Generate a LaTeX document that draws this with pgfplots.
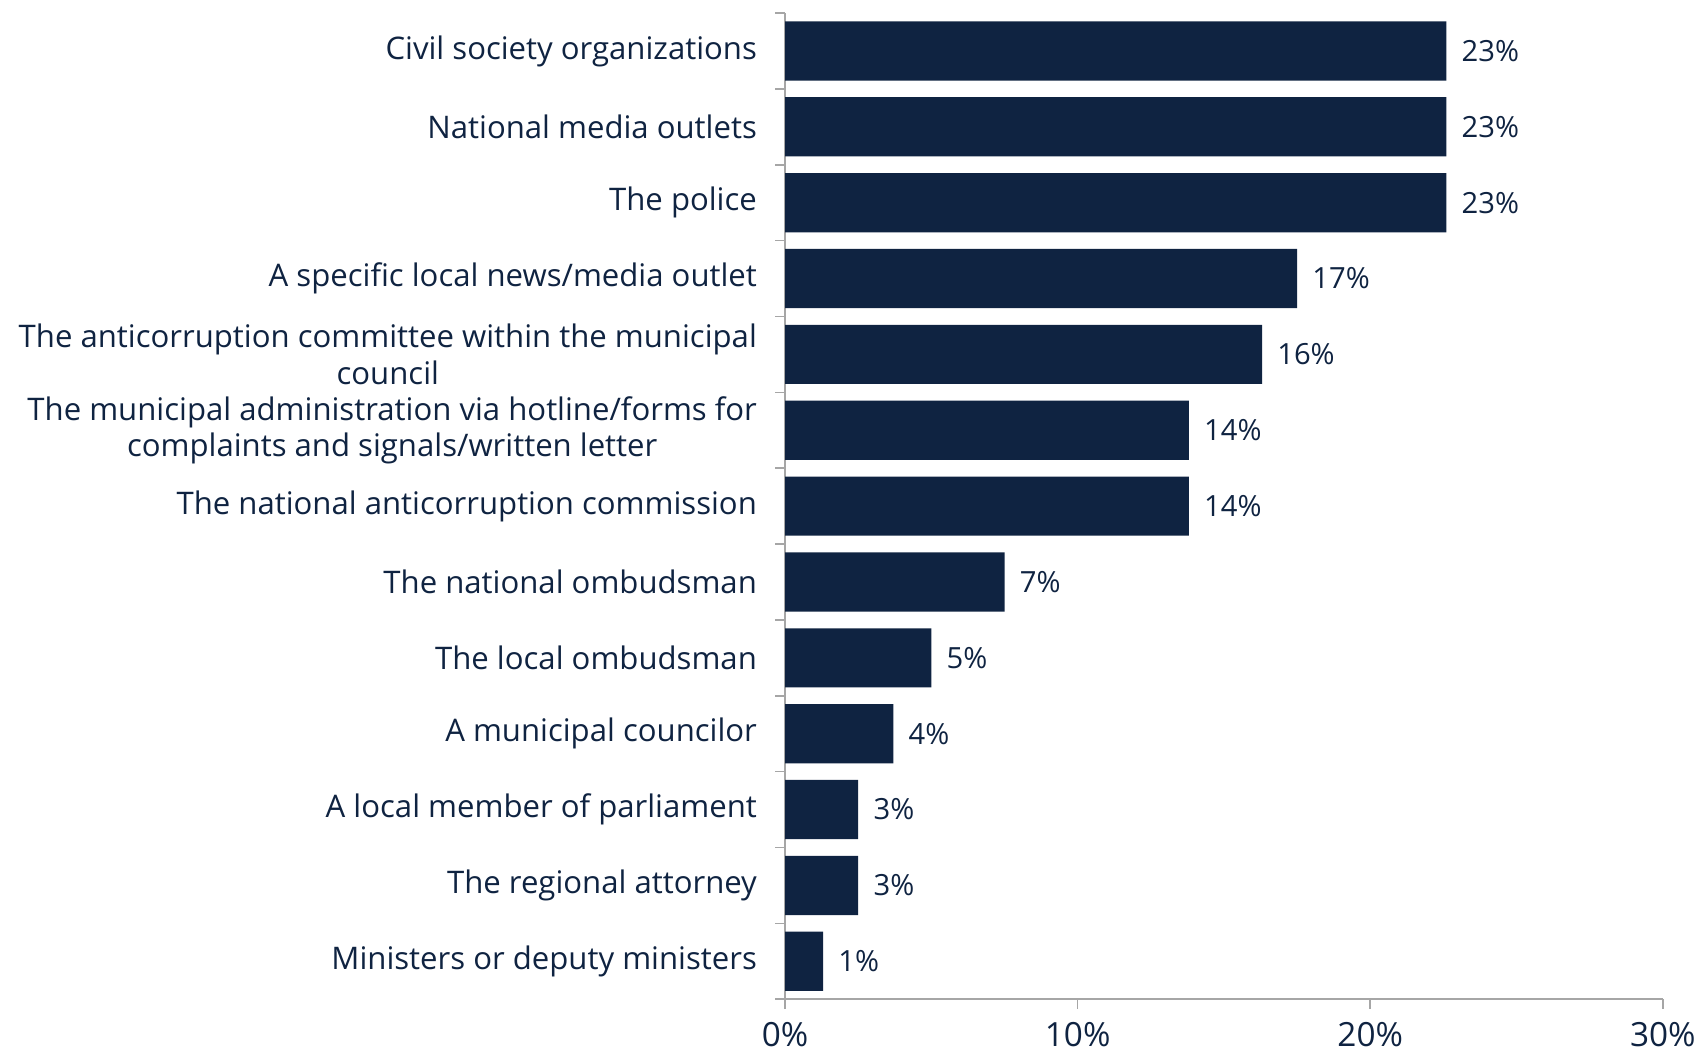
\documentclass[border=0pt]{standalone}
\usepackage{pgfplots}
\pgfplotsset{compat=1.18}
\usepackage{fontspec}
\setmainfont{Open Sans}
\definecolor{navy}{HTML}{0F2341}
\definecolor{axgray}{HTML}{A6A6A6}
\begin{document}
\begin{tikzpicture}[font=\fontsize{10.5}{11.5}\selectfont]
\begin{axis}[name=ax, scale only axis, width=316pt, height=355pt,
  xbar, bar width=0.78,
  xmin=0, xmax=30, ymin=-0.5, ymax=12.5,
  axis lines*=left,
  axis line style={axgray, line width=0.6pt},
  tick align=outside, major tick length=3.6pt,
  xtick={0,10,20,30},
  xtick style={draw=axgray, line width=0.6pt},
  xticklabel={\pgfmathprintnumber{\tick}\%},
  xticklabel style={font=\fontsize{12}{13}\selectfont, text=navy, yshift=-1.3pt},
  /pgf/number format/assume math mode=true,
  ytick={0,...,12},
  ytick style={draw=none},
  yticklabels={
    Ministers or deputy ministers,
    The regional attorney,
    A local member of parliament,
    A municipal councilor,
    The local ombudsman,
    The national ombudsman,
    The national anticorruption commission,
    {The municipal administration via hotline/forms for\\complaints and signals/written letter},
    {The anticorruption committee within the municipal\\council},
    A specific local news/media outlet,
    The police,
    National media outlets,
    Civil society organizations},
  yticklabel style={align=center, text=navy, xshift=-3pt, font=\fontsize{11.2}{13.2}\selectfont},
  extra y ticks={-0.5,0.5,1.5,2.5,3.5,4.5,5.5,6.5,7.5,8.5,9.5,10.5,11.5,12.5},
  extra y tick labels={},
  extra y tick style={ytick style={draw=axgray, line width=0.6pt}},
  point meta=explicit symbolic,
  nodes near coords,
  every node near coord/.append style={anchor=west, text=navy, xshift=2pt},
  clip=false,
]
\addplot[fill=navy, draw=none] coordinates {
  (1.3,0) [1\%]
  (2.5,1) [3\%]
  (2.5,2) [3\%]
  (3.7,3) [4\%]
  (5.0,4) [5\%]
  (7.5,5) [7\%]
  (13.8,6) [14\%]
  (13.8,7) [14\%]
  (16.3,8) [16\%]
  (17.5,9) [17\%]
  (22.6,10) [23\%]
  (22.6,11) [23\%]
  (22.6,12) [23\%]
};
\end{axis}
\pgfresetboundingbox
\path ([shift={(-282.6pt,-19.4pt)}]ax.south west) rectangle ([shift={(11.2pt,4.7pt)}]ax.north east);
\end{tikzpicture}
\end{document}
